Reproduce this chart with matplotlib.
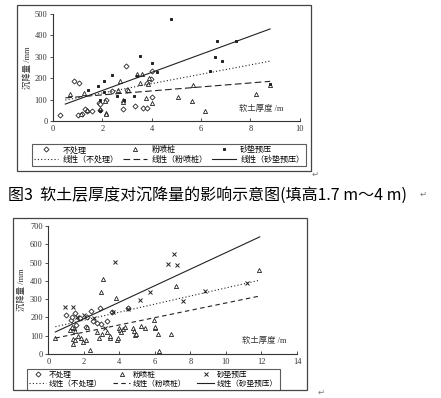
# -*- coding: utf-8 -*-
import numpy as np
import matplotlib
matplotlib.use("Agg")
import matplotlib.pyplot as plt
from matplotlib.lines import Line2D
from matplotlib.patches import Rectangle

plt.rcParams['font.family'] = ['Liberation Serif', 'Noto Sans CJK SC', 'DejaVu Sans']

W, H = 441, 398

# ---- 上图 (填高1.7 m~4 m) ----
top_none_x = [0.3, 0.86, 1.07, 1.0, 1.16, 1.31, 1.39, 1.57, 1.92, 1.85, 1.9, 2.16, 2.95, 2.85,
              3.31, 3.66, 3.82, 3.82, 3.96, 4.03, 4.01, 2.4, 3.0]
top_none_y = [30, 188, 179, 26, 31, 56, 48, 45, 50, 85, 78, 100, 259, 58,
              70, 62, 62, 176, 196, 114, 232, 140, 147]
top_pile_x = [0.68, 1.15, 1.24, 1.36, 2.16, 2.14, 2.62, 2.72, 2.84, 2.84, 3.05, 3.41, 3.51,
              3.61, 3.77, 3.86, 3.91, 4.01, 5.08, 5.64, 5.66, 6.15, 8.22, 8.78, 1.9, 2.1]
top_pile_y = [128, 34, 132, 53, 39, 31, 143, 185, 100, 90, 146, 218, 179,
              218, 106, 174, 202, 86, 114, 92, 167, 47, 126, 170, 55, 95]
top_sand_x = [1.43, 1.82, 1.89, 1.92, 2.05, 2.05, 2.41, 2.89, 3.51, 3.39, 4.01, 4.23, 4.78,
              6.35, 6.55, 6.66, 6.84, 7.43, 8.78, 3.3, 2.6]
top_sand_y = [146, 164, 100, 47, 188, 135, 215, 98, 304, 209, 269, 227, 475,
              235, 299, 374, 279, 374, 174, 115, 115]
# 线性趋势 (斜率, 截距)
top_fit = {'none': (21.9, 87.0), 'pile': (9.3, 103.4), 'sand': (42.3, 57.9)}
top_fit_range = (0.5, 8.8)

# ---- 下图 ----
bot_none_x = [1.48, 1.72, 1.8, 2.4, 2.93, 2.98, 2.51, 1.26, 1.55, 2.1, 2.75, 3.3, 1.0, 3.6,
              4.5, 2.2, 1.35]
bot_none_y = [226, 196, 198, 237, 250, 162, 181, 186, 160, 150, 170, 180, 215, 232,
              250, 200, 200]
bot_pile_x = [0.4, 1.44, 1.48, 1.2, 1.41, 1.52, 1.39, 1.35, 1.7, 1.85, 1.95, 2.1, 2.33, 2.19,
              2.76, 2.83, 2.98, 3.1, 3.0, 3.3, 3.45, 3.5, 3.83, 3.86, 3.9, 4.0, 4.05, 4.2,
              4.3, 4.1, 4.77, 4.85, 4.9, 4.95, 5.22, 5.42, 5.95, 5.98, 6.0, 6.17, 6.23, 6.92,
              7.2, 11.87]
bot_pile_y = [86, 141, 127, 132, 84, 75, 57, 150, 100, 85, 65, 75, 24, 149,
              118, 90, 338, 408, 110, 120, 85, 100, 307, 75, 85, 140, 130, 135,
              150, 120, 140, 125, 105, 110, 153, 142, 186, 142, 150, 112, 18, 112,
              370, 461]
bot_sand_x = [0.95, 1.41, 2.0, 1.6, 3.64, 3.73, 4.48, 5.14, 5.74, 6.73, 7.05, 7.22, 7.6,
              8.82, 11.18, 2.6, 3.2]
bot_sand_y = [255, 255, 212, 205, 228, 503, 246, 295, 338, 494, 545, 484, 290,
              343, 387, 195, 140]
bot_fit = {'none': (22.1, 140.4), 'pile': (20.0, 79.0), 'sand': (45.2, 102.5)}
bot_fit_range = (0.4, 11.9)

labels = ['不处理', '线性（不处理）', '粉喷桩', '线性（粉喷桩）', '砂垫预压', '线性（砂垫预压）']
ink = '#222222'


def px_box(l, t, r, b):
    return [l / W, 1 - b / H, (r - l) / W, (b - t) / H]


def frame(l, t, r, b):
    fig.add_artist(Rectangle((l / W, 1 - b / H), (r - l) / W, (b - t) / H,
                             transform=fig.transFigure, fill=False, ec='#444444', lw=0.9))


def draw_panel(ax, nx, ny, px_, py_, sx, sy, fit, frange, sand_marker, sand_ms, dash, xmax, ymax):
    ax.plot(nx, ny, ls='none', marker='D', ms=2.6, mfc='white', mec=ink, mew=0.6)
    ax.plot(px_, py_, ls='none', marker='^', ms=3.0, mfc='white', mec=ink, mew=0.6)
    ax.plot(sx, sy, ls='none', marker=sand_marker, ms=sand_ms, color=ink, mew=0.7)
    xs = np.array(frange)
    a, b = fit['none']
    ax.plot(xs, a * xs + b, ls=(0, (1, 2)), color=ink, lw=0.8)
    a, b = fit['pile']
    ax.plot(xs, a * xs + b, ls=(0, dash), color=ink, lw=0.8)
    a, b = fit['sand']
    ax.plot(xs, a * xs + b, ls='-', color=ink, lw=0.8)
    ax.set_xlim(0, xmax)
    ax.set_ylim(0, ymax)
    ax.set_xticks(range(0, xmax + 1, 2))
    ax.set_yticks(range(0, ymax + 1, 100))
    ax.spines['top'].set_visible(False)
    ax.spines['right'].set_visible(False)
    for s in ('left', 'bottom'):
        ax.spines[s].set_linewidth(0.8)
        ax.spines[s].set_color('#333333')
    ax.tick_params(axis='x', direction='in', length=2, width=0.6, labelsize=6, pad=3, colors='#333333')
    ax.tick_params(axis='y', direction='out', length=2, width=0.6, labelsize=6, pad=2, colors='#333333')
    ax.patch.set_alpha(0)


def make_legend(sand_marker, sand_ms, dash, l, t, fs, hl, cs, tp):
    h = [Line2D([], [], ls='none', marker='D', ms=2.6, mfc='white', mec=ink, mew=0.6),
         Line2D([], [], ls=(0, (1, 2)), color=ink, lw=0.8),
         Line2D([], [], ls='none', marker='^', ms=3.0, mfc='white', mec=ink, mew=0.6),
         Line2D([], [], ls=(0, dash), color=ink, lw=0.8),
         Line2D([], [], ls='none', marker=sand_marker, ms=sand_ms, color=ink, mew=0.7),
         Line2D([], [], ls='-', color=ink, lw=0.8)]
    leg = fig.legend(h, labels, ncol=3, loc='upper left', bbox_to_anchor=(l / W, 1 - t / H),
                     fontsize=fs, frameon=True, fancybox=False, edgecolor='#333333',
                     handlelength=hl, handletextpad=tp, columnspacing=cs,
                     borderpad=0.25, labelspacing=0.15, borderaxespad=0)
    leg.get_frame().set_linewidth(0.8)
    return leg


fig = plt.figure(figsize=(W / 100, H / 100), dpi=100)
fig.patch.set_facecolor('white')

# 上图
frame(17, 5, 311, 171)
ax1 = fig.add_axes(px_box(53, 14, 299.7, 121))
draw_panel(ax1, top_none_x, top_none_y, top_pile_x, top_pile_y, top_sand_x, top_sand_y,
           top_fit, top_fit_range, 's', 1.8, (6, 3), 10, 500)
ax1.set_ylabel('沉降量 /mm', fontsize=6, labelpad=2, color='#333333')
ax1.text(0.845, 0.11, '软土厚度 /m', transform=ax1.transAxes, fontsize=6,
         ha='center', va='center', color='#333333')
make_legend('s', 1.8, (6, 3), 32, 144, 5.8, 3.0, 0.6, 0.5)
fig.text(312 / W, 1 - 177 / H, '↵', fontsize=6, color='#777777', family='DejaVu Sans')

# 图题
fig.text(8 / W, 1 - 195 / H, '图3  软土层厚度对沉降量的影响示意图(填高1.7 m～4 m)',
         fontsize=11.5, va='center', ha='left', family=['Noto Sans CJK SC', 'DejaVu Sans'])
fig.text(420 / W, 1 - 197 / H, '↵', fontsize=6, color='#777777', family='DejaVu Sans')

# 下图
frame(13, 218, 307, 390)
ax2 = fig.add_axes(px_box(48.3, 226, 297, 354))
draw_panel(ax2, bot_none_x, bot_none_y, bot_pile_x, bot_pile_y, bot_sand_x, bot_sand_y,
           bot_fit, bot_fit_range, 'x', 2.4, (4, 3), 14, 700)
ax2.set_ylabel('沉降量 /mm', fontsize=6, labelpad=3, color='#333333')
ax2.text(0.87, 0.1, '软土厚度 /m', transform=ax2.transAxes, fontsize=6,
         ha='center', va='center', color='#333333')
make_legend('x', 2.4, (4, 3), 27, 369, 5.5, 2.3, 1.4, 0.3)
fig.text(318 / W, 1 - 395 / H, '↵', fontsize=6, color='#777777', family='DejaVu Sans')

fig.savefig('out.png', dpi=100, facecolor='white')
